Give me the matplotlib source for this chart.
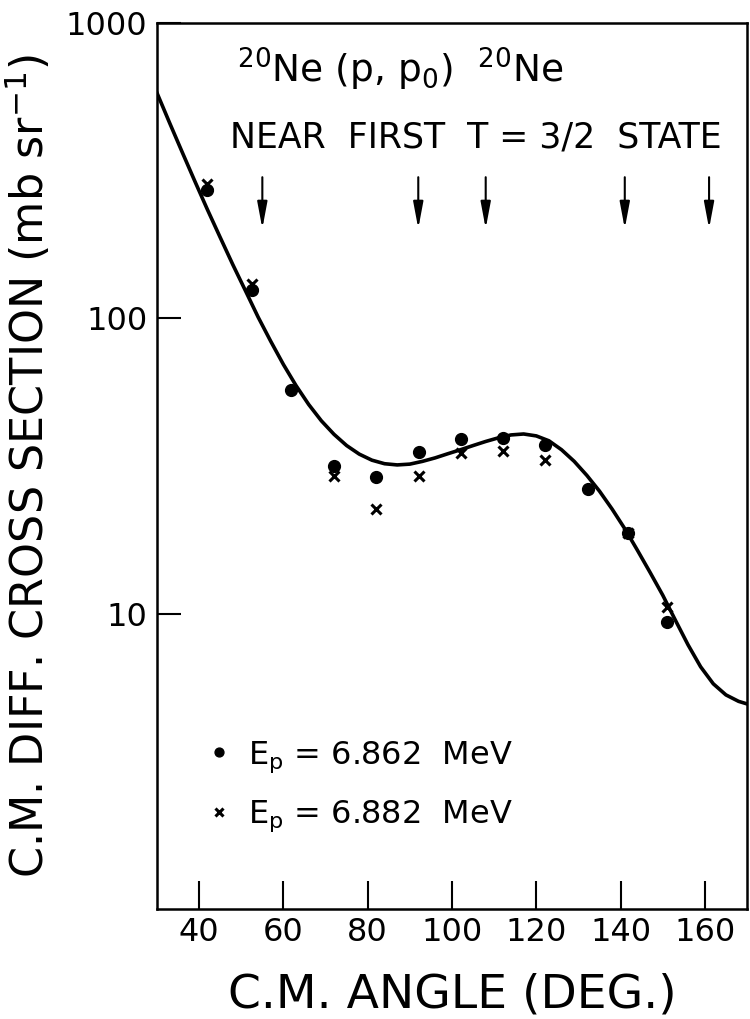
import matplotlib
matplotlib.use("Agg")
import matplotlib.pyplot as plt
import matplotlib.transforms as mtransforms

# 20Ne(p,p0)20Ne angular distribution near first T=3/2 state
angle_a = [41.9, 52.5, 61.7, 72, 82, 92.2, 102.1, 112.1, 122, 132.2, 141.7, 151]
sigma_a = [272, 125, 57, 31.7, 29.0, 35.4, 39.0, 39.2, 37.3, 26.5, 18.8, 9.4]  # Ep = 6.862 MeV

angle_b = [41.9, 52.5, 72, 82, 92.2, 102.1, 112.1, 122, 141.7, 151]
sigma_b = [285, 131, 29.2, 22.6, 29.2, 35.0, 35.6, 33.2, 18.8, 10.5]  # Ep = 6.882 MeV

# fitted curve
fit_angle = [30, 33, 36, 39, 42, 45, 48, 51, 54, 57, 60, 63, 66, 69, 72, 75, 78, 81,
             84, 87, 90, 93, 96, 99, 102, 105, 108, 111, 114, 117, 120, 123, 126,
             129, 132, 135, 138, 141, 144, 147, 150, 153, 156, 159, 162, 165, 168, 170]
fit_sigma = [580, 459, 365, 291, 233, 188, 152, 124, 101, 83.6, 69.8, 59.2, 51.1,
             45.0, 40.5, 37.1, 34.7, 33.1, 32.2, 31.9, 32.1, 32.8, 33.7, 34.8, 35.9,
             37.1, 38.3, 39.4, 40.3, 40.6, 40.0, 38.5, 35.9, 32.8, 29.4, 26.0, 22.6,
             19.4, 16.4, 13.8, 11.56, 9.51, 7.85, 6.61, 5.79, 5.31, 5.05, 4.95]

arrow_angles = [55, 92, 108, 141, 161]

x_ticks = [40, 60, 80, 100, 120, 140, 160]
y_ticks = [10, 100, 1000]

plt.rcParams['font.family'] = ['DejaVu Sans']
plt.rcParams['mathtext.fontset'] = 'dejavusans'

fig = plt.figure(figsize=(7.5, 10.19), dpi=100)
ax = fig.add_axes([0.2093, 0.1079, 0.7867, 0.8695])

ax.plot(fit_angle, fit_sigma, color='k', lw=2.6, zorder=2, solid_joinstyle='round')
ax.plot(angle_b, sigma_b, 'x', color='k', ms=7, mew=2.2, zorder=3,
        label=r'$\mathrm{E_p}$ = 6.882  MeV')
ax.plot(angle_a, sigma_a, 'o', color='k', ms=8.5, zorder=4,
        label=r'$\mathrm{E_p}$ = 6.862  MeV')

ax.set_yscale('log')
ax.set_xlim(30, 170)
ax.set_ylim(1, 1000)
ax.set_xticks(x_ticks)
ax.set_xticklabels([str(t) for t in x_ticks])
ax.set_yticks(y_ticks)
ax.set_yticklabels([str(t) for t in y_ticks])
ax.minorticks_off()
ax.tick_params(axis='x', direction='in', length=20, width=1.5, labelsize=23, pad=6)
ax.tick_params(axis='y', direction='in', length=17, width=1.5, labelsize=23, pad=7)
for sp in ax.spines.values():
    sp.set_linewidth(1.8)

ax.set_xlabel('C.M. ANGLE (DEG.)', fontsize=34)
ax.xaxis.set_label_coords(0.5, -0.072)
ax.set_ylabel(r'C.M. DIFF. CROSS SECTION (mb sr$^{-1}$)', fontsize=32, va='center')
ax.yaxis.set_label_coords(-0.218, 0.5)

# header text
ax.text(0.136, 0.933, r'$^{20}$Ne (p, p$_0$)  $^{20}$Ne', transform=ax.transAxes,
        fontsize=27, ha='left', va='baseline')
ax.text(0.124, 0.860, 'NEAR  FIRST  T = 3/2  STATE', transform=ax.transAxes,
        fontsize=25, ha='left', va='baseline')

# arrows
trans = mtransforms.blended_transform_factory(ax.transData, ax.transAxes)
for a in arrow_angles:
    ax.annotate('', xy=(a, 0.768), xytext=(a, 0.826), xycoords=trans, textcoords=trans,
                arrowprops=dict(arrowstyle='-|>,head_width=0.15,head_length=0.8',
                                color='k', lw=1.5, mutation_scale=20,
                                shrinkA=0, shrinkB=0))

handles, labels = ax.get_legend_handles_labels()
ax.legend(handles[::-1], labels[::-1], loc='lower left', bbox_to_anchor=(0.041, 0.052),
          frameon=False, fontsize=23, markerscale=0.75, handlelength=0.6,
          handletextpad=0.6, labelspacing=0.75)

fig.savefig('out.png', dpi=100)
